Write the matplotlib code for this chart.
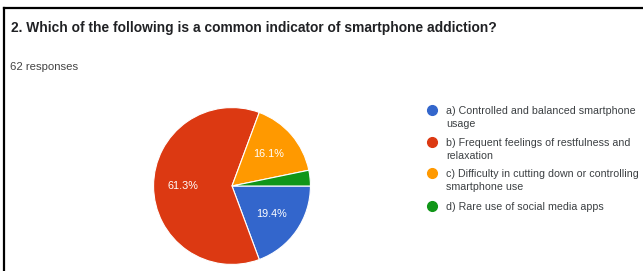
import matplotlib.pyplot as plt
from matplotlib.lines import Line2D

labels = [
    "a) Controlled and balanced smartphone\nusage",
    "b) Frequent feelings of restfulness and\nrelaxation",
    "c) Difficulty in cutting down or controlling\nsmartphone use",
    "d) Rare use of social media apps",
]
counts = [12, 38, 10, 2]
colors = ["#3366cc", "#dc3912", "#ff9900", "#109618"]

plt.rcParams["font.family"] = ["Liberation Sans", "DejaVu Sans"]

W, H = 643, 271
fig = plt.figure(figsize=(W / 100, H / 100), dpi=100)

# card border (left and top edge)
fig.add_artist(Line2D([4 / W, 4 / W], [0, 1 - 8 / H], color="black", lw=1.6,
                      transform=fig.transFigure))
fig.add_artist(Line2D([4 / W, 1], [1 - 8 / H, 1 - 8 / H], color="black", lw=1.6,
                      transform=fig.transFigure))

fig.text(11 / W, 1 - 28 / H,
         "2. Which of the following is a common indicator of smartphone addiction?",
         fontsize=9.9, fontweight="bold", color="#202124", va="center")
fig.text(10 / W, 1 - 67 / H, "62 responses", fontsize=8.2, color="#444444", va="center")

# pie
cx, cy, r = 232, 186, 80
ax = fig.add_axes([(cx - r) / W, (H - cy - r) / H, 2 * r / W, 2 * r / H])
wedges, _, autotexts = ax.pie(
    counts, colors=colors, startangle=0, counterclock=False,
    autopct=lambda p: f"{p:.1f}%" if p > 5 else "",
    pctdistance=0.62,
    wedgeprops=dict(edgecolor="white", linewidth=0.8),
    textprops=dict(color="white", fontsize=7.8),
)
ax.set_xlim(-1.02, 1.02)
ax.set_ylim(-1.02, 1.02)
ax.set_aspect("equal")
ax.axis("off")

# legend
rows = [110, 142, 173, 206]
for lab, col, y in zip(labels, colors, rows):
    fig.add_artist(Line2D([432 / W], [1 - y / H], marker="o", markersize=7,
                          color=col, transform=fig.transFigure))
    fig.text(446 / W, 1 - (y - 4) / H, lab, fontsize=7.7, color="#3c4043",
             va="top", linespacing=1.35)

plt.savefig("out.png", dpi=100)
